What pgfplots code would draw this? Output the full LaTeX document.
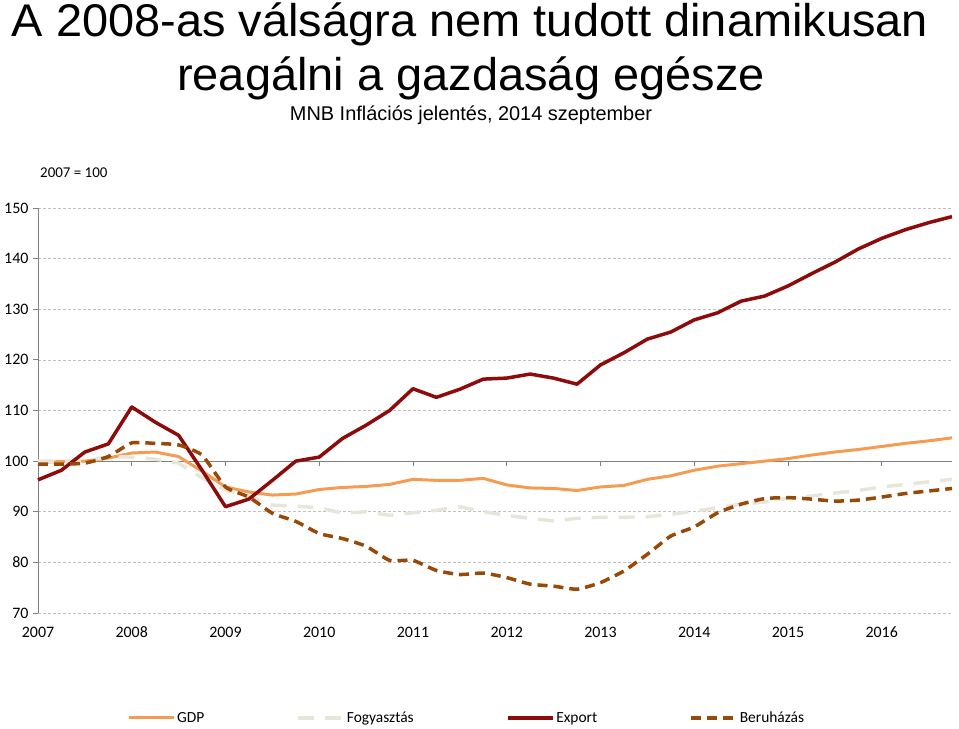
\documentclass[border=0pt]{standalone}
\usepackage{pgfplots}
\usepackage{pgfplotstable}
\pgfplotsset{compat=1.18}
\usepackage{fontspec}
\setmainfont{Carlito}
\newfontfamily\arial{Liberation Sans}

\definecolor{gdpc}{HTML}{F49C52}
\definecolor{fogyc}{HTML}{E8E6DA}
\definecolor{expc}{HTML}{8E0B0B}
\definecolor{berc}{HTML}{984807}
\definecolor{gridc}{HTML}{BFBFBF}

% quarterly index, 2007 = 100 (q = quarter since 2007 Q1)
\pgfplotstableread{
q  gdp    fogy   exp    ber
0  99.8   100.0  96.3   99.4
1  99.9   100.0  98.2   99.4
2  100.0  100.0  101.8  99.6
3  100.6  100.9  103.4  100.9
4  101.6  100.8  110.7  103.6
5  101.8  100.4  107.7  103.5
6  100.9  99.6   105.1  103.2
7  98.0   96.7   98.2   101.2
8  94.9   94.3   91.0   94.9
9  93.9   93.0   92.5   92.9
10 93.3   91.3   96.2   89.7
11 93.5   91.1   100.0  88.1
12 94.4   90.8   100.8  85.7
13 94.8   89.7   104.5  84.7
14 95.0   90.0   107.1  83.2
15 95.4   89.3   110.0  80.4
16 96.4   89.8   114.3  80.4
17 96.2   90.3   112.6  78.4
18 96.2   91.0   114.2  77.6
19 96.6   90.0   116.2  77.9
20 95.3   89.3   116.4  77.0
21 94.7   88.7   117.2  75.7
22 94.6   88.2   116.4  75.3
23 94.2   88.7   115.2  74.7
24 94.9   88.9   119.0  76.0
25 95.2   88.9   121.4  78.3
26 96.4   89.0   124.1  81.6
27 97.1   89.5   125.5  85.2
28 98.2   90.1   127.9  87.0
29 99.0   90.8   129.3  89.8
30 99.5   91.5   131.6  91.5
31 100.0  91.9   132.6  92.6
32 100.5  92.7   134.6  92.8
33 101.2  93.1   137.0  92.5
34 101.8  93.7   139.3  92.1
35 102.3  94.2   141.9  92.3
36 102.9  94.9   144.0  92.9
37 103.5  95.4   145.7  93.6
38 104.0  95.9   147.1  94.1
39 104.6  96.4   148.3  94.6
}\data

\begin{document}
\begin{tikzpicture}
\useasboundingbox (0,0) rectangle (959bp,-729bp);

\node[anchor=base, inner sep=0] at (470bp,-36bp) {\scalebox{1.025}[1]{\arial\fontsize{46}{50}\selectfont A 2008-as válságra nem tudott dinamikusan}};
\node[anchor=base, inner sep=0] at (471bp,-90bp) {\scalebox{1.025}[1]{\arial\fontsize{46}{50}\selectfont reagálni a gazdaság egésze}};
\node[anchor=base, inner sep=0] at (471bp,-120bp) {\arial\fontsize{20}{22}\selectfont MNB Inflációs jelentés, 2014 szeptember};
\node[anchor=base west, inner sep=0] at (40bp,-177bp) {\fontsize{15}{17}\selectfont 2007 = 100};

\begin{axis}[
    at={(38bp,-613bp)}, anchor=south west,
    scale only axis,
    width=914bp, height=405bp,
    xmin=0, xmax=39,
    ymin=70, ymax=150,
    ytick={70,80,...,150},
    xtick={0,4,...,36},
    xticklabels={2007,2008,2009,2010,2011,2012,2013,2014,2015,2016},
    /pgf/number format/assume math mode=true,
    tick label style={font=\fontsize{16}{18}\selectfont, black},
    x tick label style={anchor=north, text height=11bp, text depth=0bp, yshift=-5bp},
    y tick label style={xshift=-1bp},
    axis x line*=bottom,
    axis y line*=left,
    x axis line style={draw=none},
    y axis line style={draw=gray, line width=0.8bp, -},
    x tick style={draw=none},
    y tick style={draw=gray, line width=0.8bp},
    tick align=outside,
    major tick length=5bp,
    ymajorgrids=true,
    grid style={dash pattern=on 3bp off 2bp, gridc, line width=0.6bp},
    extra y ticks={100},
    extra y tick labels={},
    extra y tick style={grid=major, major grid style={solid, gray, line width=1bp}, major tick length=0bp},
    legend columns=4,
    legend style={at={(0.469,-0.259)}, anchor=center, draw=none, fill=none,
        font=\fontsize{15.5}{17}\selectfont,
        /tikz/every even column/.append style={column sep=90bp},
        nodes={inner sep=2bp}},
    legend image code/.code={\draw[#1] (0bp,0bp) -- (45bp,0bp);},
    clip=false,
]
\foreach \qq in {4,8,...,36} {
    \edef\tmp{\noexpand\draw[gray, line width=0.8bp] (axis cs:\qq,100) -- ([yshift=-5bp]axis cs:\qq,100);}
    \tmp
}
\addplot[gdpc, line width=3bp] table[x=q, y=gdp] {\data};
\addlegendentry{GDP}
\addplot[fogyc, line width=3.5bp, dash pattern=on 16bp off 11bp] table[x=q, y=fogy] {\data};
\addlegendentry{Fogyasztás}
\addplot[expc, line width=3.5bp, line join=round] table[x=q, y=exp] {\data};
\addlegendentry{Export}
\addplot[berc, line width=3.5bp, dash pattern=on 10bp off 6bp, smooth, tension=0.3] table[x=q, y=ber] {\data};
\addlegendentry{Beruházás}
\end{axis}
\end{tikzpicture}
\end{document}
